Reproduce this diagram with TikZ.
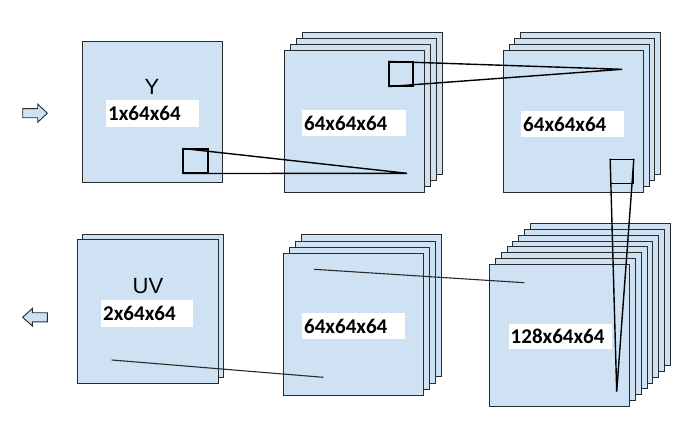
\documentclass[tikz,border=0pt]{standalone}
\usepackage{fontspec}
\setmainfont{Carlito}[BoldFont={Carlito Bold}]
\newfontfamily\arialfont{Liberation Sans}
\definecolor{boxblue}{HTML}{CFE2F3}
\definecolor{edgegray}{HTML}{2A2A2A}
\begin{document}
\begin{tikzpicture}[x=1pt,y=-1pt,
  layer/.style={draw=edgegray, fill=boxblue, line width=1pt, minimum width=140pt, minimum height=142pt, inner sep=0pt},
  dimlabel/.style={fill=white, anchor=north west, inner xsep=2pt, inner ysep=0pt, minimum height=26pt, align=left, font=\fontsize{21}{24}\selectfont\bfseries},
  chan/.style={inner sep=0pt, font=\arialfont\fontsize{22}{26}\selectfont},
  sqbox/.style={draw=black, line width=1.1pt, inner sep=0pt},
  pyr/.style={draw=black, line width=1.4pt},
  link/.style={draw=edgegray, line width=1.1pt},
  arrowshape/.style={draw=edgegray, fill=boxblue, line width=0.9pt, line join=miter}]
\useasboundingbox (0,0) rectangle (698,430);

% input / output arrows
\draw[arrowshape] (22.7,108.6) -- (37.7,108.6) -- (37.7,104) -- (47.3,113.2) -- (37.7,122.3) -- (37.7,117.8) -- (22.7,117.8) -- cycle;
\draw[arrowshape] (47.3,312.7) -- (32.3,312.7) -- (32.3,308.5) -- (22.7,317.3) -- (32.3,326) -- (32.3,321.9) -- (47.3,321.9) -- cycle;

% Y input
\node[layer, minimum height=141pt] (b1) at (152,112.5) {};
% first 64 stack
\foreach \i in {3,2,1,0} \node[layer] (bt\i) at ({354+6*\i},{121.5-6*\i}) {};
% second 64 stack
\foreach \i in {3,2,1,0} \node[layer] (bu\i) at ({573.5+5.7*\i},{121.5-6*\i}) {};
% 128 stack
\foreach \i in {7,6,5,4,3,2,1,0} \node[layer] (bc\i) at ({559.5+5.86*\i},{335.5-5.86*\i}) {};
% lower 64 stack
\foreach \i in {3,2,1,0} \node[layer] (bd\i) at ({353.5+6*\i},{324.5-6.2*\i}) {};
% UV output
\foreach \i in {1,0} \node[layer, minimum width=141pt, minimum height=143pt] (bo\i) at ({147.5+5.5*\i},{311.5-5.5*\i}) {};

% channel names
\node[chan] (ytext) at (152,86.5) {Y};
\node[chan] (uvtext) at (148,285.7) {UV};

% dimension labels
\node[dimlabel, text width=89pt, minimum height=27pt] (l1) at (106,100) {1x64x64};
\node[dimlabel, text width=100pt] (l2) at (302,110) {64x64x64};
\node[dimlabel, text width=99pt] (l3) at (521,111) {64x64x64};
\node[dimlabel, text width=99pt, minimum height=25pt] (l4) at (508.5,324) {128x64x64};
\node[dimlabel, text width=99pt] (l5) at (302,313) {64x64x64};
\node[dimlabel, text width=88pt, minimum height=27pt] (l6) at (101,300) {2x64x64};

% receptive-field squares and their cones
\node[sqbox, minimum width=25pt, minimum height=24pt] (s1) at (195.5,161) {};
\node[sqbox, minimum width=24pt, minimum height=24pt] (s2) at (401,74) {};
\node[sqbox, minimum width=22.6pt, minimum height=24pt] (s3) at (622,171.3) {};
\coordinate (a1) at (407,173.3);
\coordinate (a2) at (622,69.3);
\coordinate (a3) at (616.7,391.7);
\draw[pyr] (s1.north west) -- (a1) -- (s1.south west);
\draw[pyr] (s2.north west) -- (a2) -- (s2.south west);
\draw[pyr] (s3.north west) -- (a3) -- (s3.north east);

% plain links between lower stacks
\coordinate (c1) at (314,269.3);
\coordinate (c2) at (524.3,282.7);
\coordinate (c3) at (111.7,360);
\coordinate (c4) at (323.3,377.3);
\draw[link] (c1) -- (c2);
\draw[link] (c3) -- (c4);
\end{tikzpicture}
\end{document}
